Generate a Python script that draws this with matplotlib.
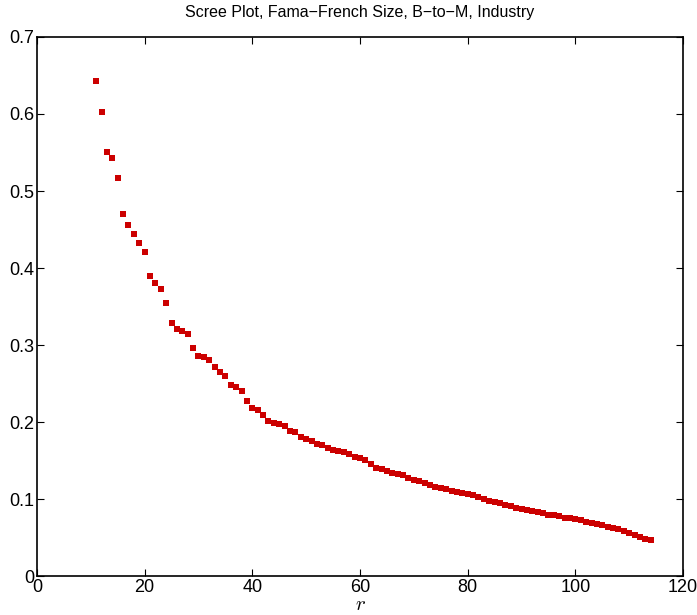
import numpy as np
import matplotlib.pyplot as plt

plt.rcParams['font.family'] = ['Liberation Sans', 'DejaVu Sans']
plt.rcParams['mathtext.fontset'] = 'cm'

# number of factors r and scree values
r = np.arange(11, 115)
vals = [0.643, 0.602, 0.551, 0.543, 0.517, 0.470, 0.456, 0.444, 0.432, 0.421,
        0.390, 0.381, 0.373, 0.354, 0.329, 0.321, 0.318, 0.314, 0.296, 0.286,
        0.284, 0.281, 0.271, 0.265, 0.260, 0.248, 0.246, 0.241, 0.228, 0.219,
        0.216, 0.209, 0.202, 0.199, 0.197, 0.195, 0.189, 0.187, 0.181, 0.178,
        0.175, 0.172, 0.170, 0.166, 0.164, 0.163, 0.161, 0.159, 0.155, 0.154,
        0.151, 0.146, 0.141, 0.139, 0.136, 0.134, 0.133, 0.131, 0.127, 0.125,
        0.124, 0.121, 0.118, 0.116, 0.115, 0.113, 0.111, 0.109, 0.108, 0.107,
        0.105, 0.103, 0.100, 0.098, 0.097, 0.095, 0.093, 0.091, 0.089, 0.087,
        0.086, 0.085, 0.083, 0.082, 0.080, 0.079, 0.078, 0.076, 0.075, 0.074,
        0.073, 0.071, 0.069, 0.068, 0.066, 0.064, 0.062, 0.061, 0.059, 0.056,
        0.053, 0.051, 0.049, 0.047]

fig = plt.figure(figsize=(6.97, 6.15), dpi=100)
ax = fig.add_axes([0.053, 0.063, 0.927, 0.877])
ax.plot(r, vals, 's', color='#cc0000', markersize=5, markeredgewidth=0)

ax.set_xlim(0, 120)
ax.set_ylim(0, 0.7)
ax.set_xticks(np.arange(0, 121, 20))
ax.set_yticks(np.arange(0, 0.71, 0.1))
ax.set_yticklabels(['0', '0.1', '0.2', '0.3', '0.4', '0.5', '0.6', '0.7'])
ax.tick_params(direction='in', top=True, right=True, labelsize=13, length=5, pad=2)
for s in ax.spines.values():
    s.set_linewidth(1.2)

ax.set_title('Scree Plot, Fama\u2212French Size, B\u2212to\u2212M, Industry', fontsize=11.5, pad=14)
ax.set_xlabel('$r$', fontsize=15, labelpad=-1)

fig.savefig('out.png', dpi=100)
